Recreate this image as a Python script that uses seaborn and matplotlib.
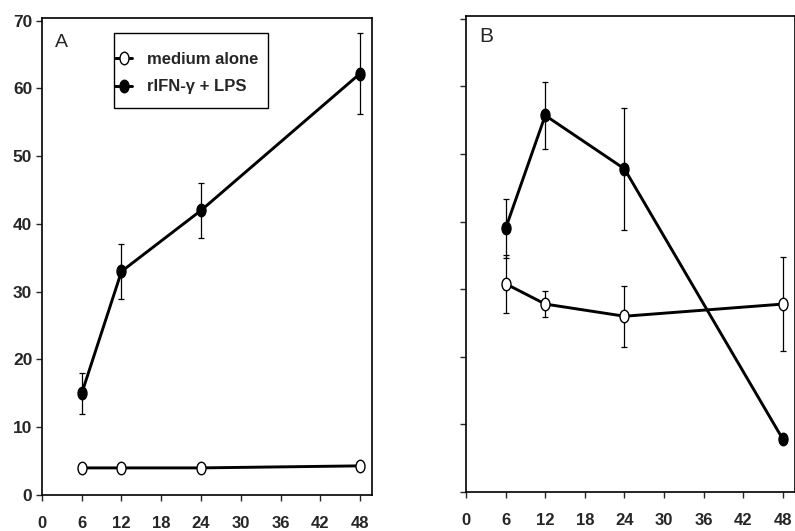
import pandas as pd
import seaborn as sns
import matplotlib.pyplot as plt
from matplotlib.path import Path
from matplotlib.patches import Rectangle
from matplotlib.transforms import Affine2D

# time points (h)
hours = [6, 12, 24, 48]

# panel A
a_medium = [4.0, 4.0, 4.0, 4.3]
a_medium_sd = [0, 0, 0, 0]
a_treated = [15, 33, 42, 62.2]
a_treated_sd = [3, 4, 4, 6]

# panel B
b_medium = [30.8, 27.8, 26, 27.8]
b_medium_sd = [4.3, 1.9, 4.5, 7]
b_treated = [39, 55.7, 47.8, 7.8]
b_treated_sd = [4.4, 5, 9, 0]

labels = ["medium alone", "rIFN-\u03b3 + LPS"]

sns.set_style("ticks")
plt.rcParams["font.family"] = ["Liberation Sans", "DejaVu Sans"]

# slightly tall oval marker like the scanned figure
oval = Path.unit_circle().transformed(Affine2D().scale(0.72, 1.0))

fig = plt.figure(figsize=(7.95, 5.31), dpi=100)
axA = fig.add_axes([0.0528, 0.0678, 0.4151, 0.8983])
axB = fig.add_axes([0.5862, 0.0734, 0.4135, 0.8964])


def draw(ax, med, med_sd, trt, trt_sd):
    df = pd.DataFrame({"hours": hours * 2,
                       "value": med + trt,
                       "sd": med_sd + trt_sd,
                       "group": [labels[0]] * 4 + [labels[1]] * 4})
    for lab, face in zip(labels, ["white", "black"]):
        d = df[df["group"] == lab]
        d_err = d[d["sd"] > 0]
        ax.errorbar(d_err["hours"], d_err["value"], yerr=d_err["sd"],
                    fmt="none", ecolor="black", elinewidth=0.9,
                    capsize=2.2, capthick=0.9, zorder=2)
        sns.lineplot(data=d, x="hours", y="value", ax=ax, color="black",
                     lw=2.1, marker=oval, markersize=9, markerfacecolor=face,
                     markeredgecolor="black", markeredgewidth=1,
                     label=lab, zorder=3, legend=False)
    ax.set_xlim(0, 49.8)
    ax.set_ylim(0, 70.4)
    ax.set_xticks(range(0, 49, 6))
    ax.set_yticks(range(0, 71, 10))
    ax.set_xlabel("")
    ax.set_ylabel("")
    for s in ax.spines.values():
        s.set_visible(True)
        s.set_color("black")
        s.set_linewidth(1.2)
    ax.tick_params(axis="x", direction="out", length=4, width=1, pad=11,
                   labelsize=12)
    ax.tick_params(axis="y", direction="out", length=4, width=1, pad=3,
                   labelsize=12.5)
    for t in ax.get_xticklabels() + ax.get_yticklabels():
        t.set_fontweight("bold")


draw(axA, a_medium, a_medium_sd, a_treated, a_treated_sd)
draw(axB, b_medium, b_medium_sd, b_treated, b_treated_sd)
axB.set_yticklabels([])

axA.text(0.04, 0.966, "A", transform=axA.transAxes, fontsize=14, va="top")
axB.text(0.04, 0.977, "B", transform=axB.transAxes, fontsize=15, va="top")

leg = axA.legend(loc="upper left", bbox_to_anchor=(0.222, 0.929),
                 borderaxespad=0, borderpad=0, frameon=False,
                 handlelength=1.0, handletextpad=0.9, labelspacing=0.75,
                 prop={"weight": "bold", "size": 12})
axA.add_patch(Rectangle((0.218, 0.811), 0.467, 0.158, transform=axA.transAxes,
                        fill=False, edgecolor="black", lw=1, zorder=4))

plt.savefig("out.png", dpi=100)
